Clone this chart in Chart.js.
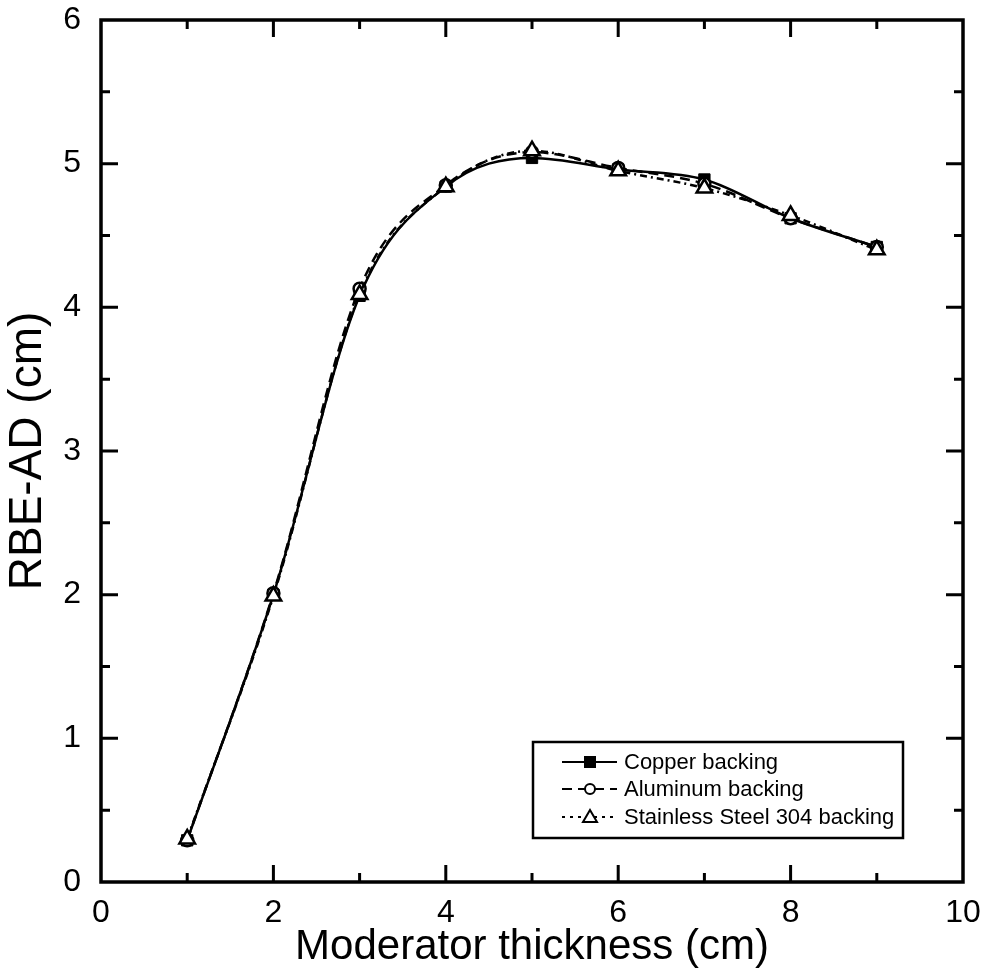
<!DOCTYPE html>
<html>
<head>
<meta charset="utf-8">
<script src="https://cdn.jsdelivr.net/npm/chart.js@4.4.1/dist/chart.umd.min.js"></script>
<style>
  body { margin: 0; background: #fff; }
  #wrap { width: 988px; height: 971px; }
</style>
</head>
<body>
<div id="wrap"><canvas id="grafico"></canvas></div>
<script>
// valores
const espessura = [1, 2, 3, 4, 5, 6, 7, 8, 9];
const cobre = [0.29, 2.00, 4.08, 4.84, 5.04, 4.96, 4.89, 4.62, 4.42];
const aluminio = [0.29, 2.01, 4.13, 4.85, 5.08, 4.97, 4.86, 4.62, 4.42];
const inox = [0.30, 1.99, 4.09, 4.84, 5.09, 4.95, 4.83, 4.64, 4.40];
const nomes = ['Copper backing', 'Aluminum backing', 'Stainless Steel 304 backing'];

const fonte = "'Liberation Sans', Arial, sans-serif";

function pontos(ys) {
    return espessura.map((x, i) => ({ x: x, y: ys[i] }));
}

// moldura e ticks para dentro nos quatro lados
const molduraPlugin = {
    id: 'moldura',
    afterDraw(chart) {
        const c = chart.ctx;
        const a = chart.chartArea;
        const sx = chart.scales.x;
        const sy = chart.scales.y;
        c.save();
        c.strokeStyle = '#000';
        c.lineWidth = 3.5;
        c.lineCap = 'butt';
        c.strokeRect(a.left, a.top, a.right - a.left, a.bottom - a.top);
        c.lineWidth = 3;
        for (let v = 1; v < 10; v++) {
            const px = sx.getPixelForValue(v);
            const len = v % 2 === 0 ? 17 : 9;
            c.beginPath();
            c.moveTo(px, a.bottom); c.lineTo(px, a.bottom - len);
            c.moveTo(px, a.top); c.lineTo(px, a.top + len);
            c.stroke();
        }
        for (let k = 1; k < 12; k++) {
            const v = k / 2;
            const py = sy.getPixelForValue(v);
            const len = k % 2 === 0 ? 17 : 9;
            c.beginPath();
            c.moveTo(a.left, py); c.lineTo(a.left + len, py);
            c.moveTo(a.right, py); c.lineTo(a.right - len, py);
            c.stroke();
        }
        c.restore();
    }
};

// legenda desenhada dentro da area
const legendaPlugin = {
    id: 'legendaCaixa',
    afterDraw(chart) {
        const c = chart.ctx;
        const x0 = 533, y0 = 742, w = 370, h = 96;
        c.save();
        c.fillStyle = '#fff';
        c.fillRect(x0, y0, w, h);
        c.strokeStyle = '#000';
        c.lineWidth = 2.5;
        c.strokeRect(x0, y0, w, h);
        c.font = '22px ' + fonte;
        c.textBaseline = 'middle';
        c.fillStyle = '#000';
        const linhas = [762, 789, 817];
        const estilos = [[], [10, 6], [3, 5]];
        chart.data.datasets.forEach((ds, i) => {
            const y = linhas[i];
            c.lineWidth = 2;
            c.setLineDash(estilos[i]);
            c.beginPath();
            c.moveTo(562, y); c.lineTo(617, y);
            c.stroke();
            c.setLineDash([]);
            c.lineWidth = 2;
            const mx = 590;
            if (ds.pointStyle === 'rect') {
                c.fillStyle = '#000';
                c.fillRect(mx - 6, y - 6, 12, 12);
            } else if (ds.pointStyle === 'circle') {
                c.fillStyle = '#fff';
                c.beginPath(); c.arc(mx, y, 5, 0, Math.PI * 2); c.fill(); c.stroke();
            } else {
                c.fillStyle = '#fff';
                c.beginPath();
                c.moveTo(mx, y - 7); c.lineTo(mx + 7, y + 5); c.lineTo(mx - 7, y + 5); c.closePath();
                c.fill(); c.stroke();
            }
            c.fillStyle = '#000';
            c.fillText(nomes[i], 624, y + 1);
        });
        c.restore();
    }
};

const config = {
    type: 'line',
    data: {
        datasets: [
            {
                label: nomes[0],
                data: pontos(cobre),
                borderColor: '#000',
                backgroundColor: '#000',
                borderWidth: 2.5,
                pointStyle: 'rect',
                pointRadius: 8,
                pointBorderWidth: 1,
                cubicInterpolationMode: 'monotone',
                order: 2
            },
            {
                label: nomes[1],
                data: pontos(aluminio),
                borderColor: '#000',
                backgroundColor: '#fff',
                borderWidth: 2.5,
                borderDash: [10, 6],
                pointStyle: 'circle',
                pointRadius: 6,
                pointBorderWidth: 2.5,
                cubicInterpolationMode: 'monotone',
                order: 1
            },
            {
                label: nomes[2],
                data: pontos(inox),
                borderColor: '#000',
                backgroundColor: '#fff',
                borderWidth: 2.5,
                borderDash: [7, 4, 2, 4],
                pointStyle: 'triangle',
                pointRadius: 9,
                pointBorderWidth: 2.5,
                cubicInterpolationMode: 'monotone',
                order: 0
            }
        ]
    },
    options: {
        responsive: true,
        maintainAspectRatio: false,
        animation: false,
        layout: { padding: { top: 20, right: 25, left: 0, bottom: 0 } },
        plugins: {
            legend: { display: false },
            tooltip: { enabled: false }
        },
        scales: {
            x: {
                type: 'linear',
                min: 0,
                max: 10,
                afterFit: (s) => {
                    s.height = 89;
                    s.paddingLeft = 0;
                    s.paddingRight = 0;
                },
                grid: { display: false, drawTicks: false },
                border: { display: false },
                ticks: {
                    stepSize: 2,
                    color: '#000',
                    padding: 12,
                    maxRotation: 0,
                    font: { family: fonte, size: 32 }
                },
                title: {
                    display: true,
                    text: 'Moderator thickness (cm)',
                    color: '#000',
                    padding: { top: 0, bottom: -2 },
                    font: { family: fonte, size: 42 }
                }
            },
            y: {
                min: 0,
                max: 6,
                afterFit: (s) => {
                    s.width = 101;
                    s.paddingTop = 0;
                    s.paddingBottom = 0;
                },
                grid: { display: false, drawTicks: false },
                border: { display: false },
                ticks: {
                    stepSize: 1,
                    color: '#000',
                    padding: 20,
                    font: { family: fonte, size: 32 }
                },
                title: {
                    display: true,
                    text: 'RBE-AD (cm)',
                    color: '#000',
                    padding: { top: 1, bottom: 0 },
                    font: { family: fonte, size: 46 }
                }
            }
        }
    },
    plugins: [molduraPlugin, legendaPlugin]
};

const ctx = new Chart(document.getElementById('grafico'), config);
</script>
</body>
</html>
